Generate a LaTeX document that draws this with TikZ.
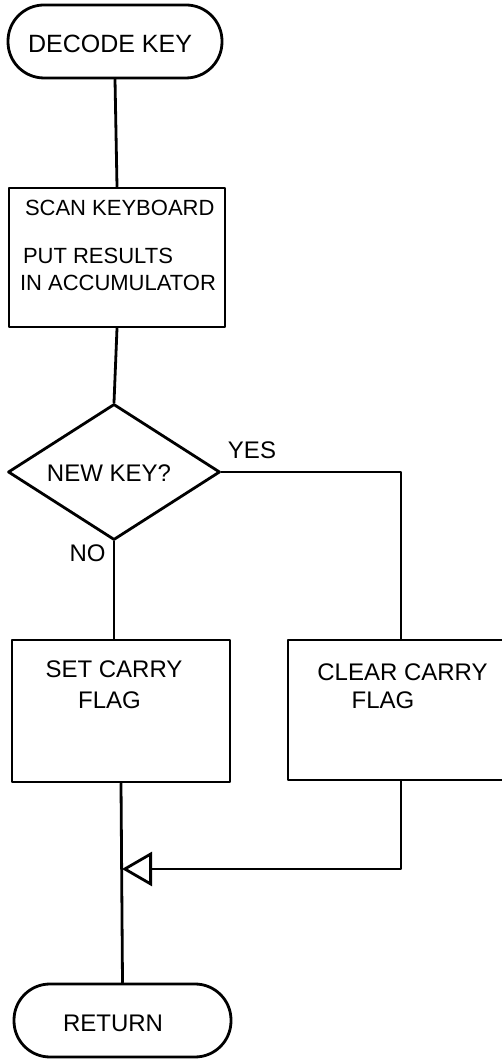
\documentclass[tikz,border=0pt]{standalone}
\usepackage{fontspec}
\setmainfont{Liberation Sans}
\usetikzlibrary{shapes.geometric,arrows.meta}
\begin{document}
\begin{tikzpicture}[x=1pt,y=1pt,
	flowline/.style={draw=drawColor,line width=2.8pt,line join=round,line cap=round},
	terminal/.style={flowline,rectangle,rounded corners=36pt,inner sep=0pt},
	process/.style={flowline,rectangle,inner sep=0pt},
	decision/.style={flowline,diamond,aspect=1.56,inner sep=0pt},
	handtext/.style={text=drawColor,inner sep=0pt,outer sep=0pt,font=\fontsize{22}{26}\selectfont},
	bigtext/.style={handtext,font=\fontsize{24}{28}\selectfont}]
\definecolor{fillColor}{RGB}{255,255,255}
\definecolor{drawColor}{RGB}{0,0,0}
\path[use as bounding box,fill=fillColor] (0,0) rectangle (501,1059);

\node[terminal,minimum width=214pt,minimum height=73pt] (decode) at (115,1017.5) {};

\node[bigtext,font=\fontsize{25}{30}\selectfont] (decodetxt) at (110,1015) {DECODE KEY};

\node[process,minimum width=216pt,minimum height=139pt] (scan) at (117,801.5) {};

\node[handtext,anchor=west] (scankbd) at ( 25,851.5) {SCAN KEYBOARD};

\node[handtext,anchor=west] (putres) at ( 23,803.5) {PUT RESULTS};

\node[handtext,anchor=west] (inacc) at ( 20,776.5) {IN ACCUMULATOR};

\node[decision,minimum width=212pt,minimum height=136pt] (newkey) at (114,587) {};

\node[bigtext] (newkeytxt) at (109,586) {NEW KEY?};

\node[bigtext] (yes) at (252,609) {YES};

\node[bigtext] (no) at ( 87.5,506) {NO};

\node[process,minimum width=218pt,minimum height=142pt] (setc) at (121,348) {};

\node[bigtext] (setcarry) at (114,390) {SET CARRY};

\node[bigtext] (setflag) at (109.5,359) {FLAG};

\node[process,minimum width=226pt,minimum height=140pt] (clearc) at (401,349) {};

\node[bigtext] (clearcarry) at (402.5,387) {CLEAR CARRY};

\node[bigtext] (clearflag) at (383,359) {FLAG};

\coordinate (merge) at (122,190);

\node[terminal,minimum width=217pt,minimum height=73pt] (ret) at (122.5,38.5) {};

\node[bigtext] (rettxt) at (113,36) {RETURN};

\path[flowline] (decode.south) -- (scan.north);

\path[flowline] (scan.south) -- (newkey.north);

\path[flowline] (newkey.south) -- (newkey.south |- setc.north);

\path[flowline] (newkey.east) -| (clearc.north);

\path[flowline] (setc.south) -- (ret.north);

\path[flowline,-{Triangle[open,length=30pt,width=34pt]}] (clearc.south) |- (merge);
\end{tikzpicture}
\end{document}
